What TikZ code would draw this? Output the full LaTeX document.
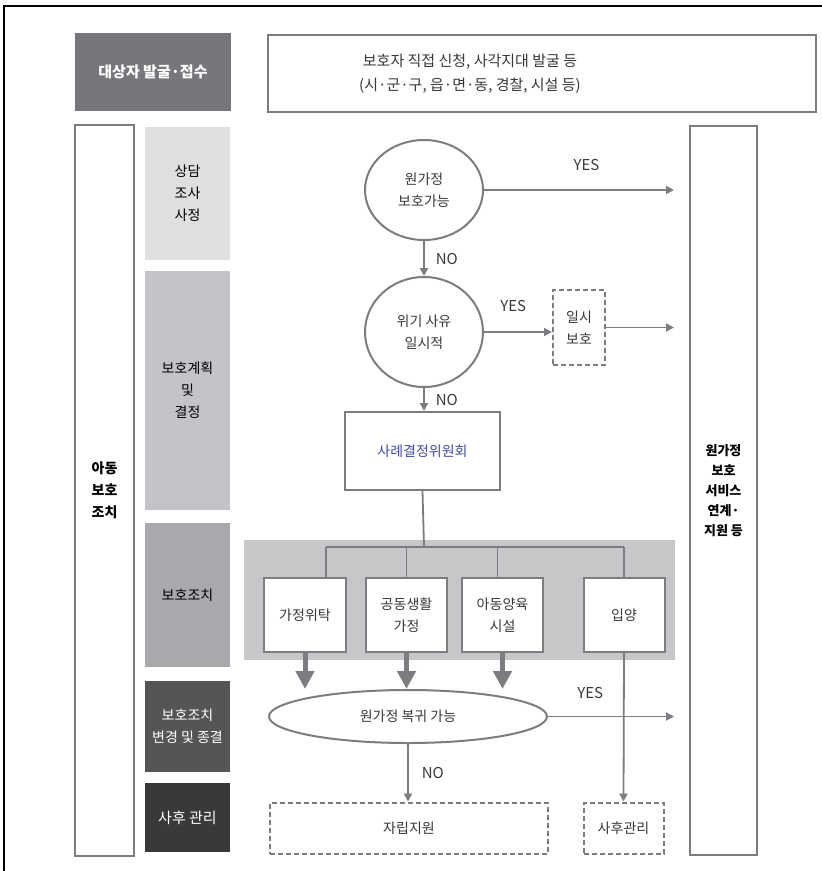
\documentclass[tikz,border=0pt]{standalone}
\usepackage{fontspec}
\setmainfont{Noto Sans CJK KR}
\usepackage{xcolor}
\usetikzlibrary{shapes.geometric, arrows.meta, positioning, calc}

\definecolor{linegray}{HTML}{7D7D81}
\definecolor{txtgray}{HTML}{383838}
\definecolor{boardblue}{HTML}{3F4C9E}
\definecolor{stageA}{HTML}{DFDFE1}
\definecolor{stageB}{HTML}{C3C4C7}
\definecolor{stageC}{HTML}{A8A9AC}
\definecolor{stageD}{HTML}{555558}
\definecolor{stageE}{HTML}{39393B}
\definecolor{intakegray}{HTML}{77777B}
\definecolor{panelgray}{HTML}{C6C7C9}

\begin{document}
\begin{tikzpicture}[
    x=1pt, y=-1pt,
    font=\fontsize{14}{22}\selectfont,
    stagebox/.style={rectangle, minimum width=85pt, align=center, text=black},
    box/.style={rectangle, draw=linegray, line width=2pt, fill=white, align=center, text=txtgray},
    dashbox/.style={box, dash pattern=on 5pt off 3pt},
    decision/.style={ellipse, draw=linegray, line width=2pt, fill=white, align=center, inner sep=0pt, text=txtgray},
    flow/.style={-{Triangle[length=8pt, width=8pt]}, draw=linegray, line width=1.8pt},
    link/.style={draw=linegray, line width=1.8pt},
    fat/.style={-{Triangle[length=18pt, width=18pt]}, draw=linegray, line width=5pt},
    lbl/.style={text=txtgray, inner sep=1pt, font=\fontsize{15}{18}\selectfont}
]
\useasboundingbox (0,0) rectangle (822,871);

% Frame
\draw[line width=1.5pt] (4,871) -- (4,6) -- (822,6);

% Intake row
\node[rectangle, fill=intakegray, minimum width=156pt, minimum height=78pt, text=white, font=\fontsize{15}{22}\selectfont\bfseries] (intake) at (153,72) {대상자 발굴·접수};
\node[box, minimum width=548pt, minimum height=77pt] (source) at (542,73.5) {};
\node[align=center, text=txtgray, font=\fontsize{15}{24}\selectfont] (sourcetxt) at (470,73.5) {보호자 직접 신청, 사각지대 발굴 등\\(시·군·구, 읍·면·동, 경찰, 시설 등)};

% Side columns
\node[box, minimum width=59pt, minimum height=731pt, text=black, font=\fontsize{14}{22}\selectfont\bfseries] (child) at (104.5,490.5) {아동\\보호\\조치};
\node[box, minimum width=67pt, minimum height=729pt, text=black, font=\fontsize{13}{20}\selectfont\bfseries] (home) at (723.5,490.5) {원가정\\보호\\서비스\\연계·\\지원 등};

% Stages
\node[stagebox, fill=stageA, minimum height=133pt] (st1) at (187.5,193.5) {상담\\조사\\사정};
\node[stagebox, fill=stageB, minimum height=239pt] (st2) at (187.5,390.5) {보호계획\\및\\결정};
\node[stagebox, fill=stageC, minimum height=144pt] (st3) at (187.5,595) {보호조치};
\node[stagebox, fill=stageD, minimum height=91pt, text=white] (st4) at (187.5,726.5) {보호조치\\변경 및 종결};
\node[stagebox, fill=stageE, minimum height=69pt, text=white, font=\fontsize{15}{22}\selectfont] (st5) at (187.5,817.5) {사후 관리};

% Decisions
\node[decision, minimum width=118pt, minimum height=100pt] (q1) at (424,190) {원가정\\보호가능};
\node[decision, minimum width=118pt, minimum height=110pt] (q2) at (424,332) {위기 사유\\일시적};
\node[dashbox, minimum width=52pt, minimum height=75pt] (temp) at (579,327.5) {일시\\보호};
\node[box, minimum width=155pt, minimum height=78pt, text=boardblue] (board) at (422.5,451) {사례결정위원회};

\draw[flow, shorten >=15pt] (q1.east) -- node[lbl, above=17pt, pos=0.5] {YES} (q1.east -| home.west);
\draw[flow] (q1.south) -- node[lbl, right=10pt] {NO} (q2.north);
\draw[flow] (q2.east) -- node[lbl, above=18pt, pos=0.43] {YES} (q2.east -| temp.west);
\draw[flow, shorten >=15pt] (temp.east) -- (temp.east -| home.west);
\draw[flow] (q2.south) -- node[lbl, right=10pt] {NO} (q2.south |- board.north);

% Placements
\node[rectangle, fill=panelgray, minimum width=431pt, minimum height=120pt] (panel) at (459.5,600) {};
\node[box, minimum width=82pt, minimum height=74pt] (b1) at (305,615) {가정위탁};
\node[box, minimum width=81pt, minimum height=74pt] (b2) at (406.5,615) {공동생활\\가정};
\node[box, minimum width=81pt, minimum height=74pt] (b3) at (502.5,615) {아동양육\\시설};
\node[box, minimum width=81pt, minimum height=74pt] (b4) at (624,615) {입양};

\coordinate (bus) at (424,547);
\coordinate (t1) at ([xshift=21pt]b1.north);
\coordinate (t2) at (b2.north);
\coordinate (t3) at ([xshift=-5pt]b3.north);
\coordinate (t4) at (b4.north);
\draw[link] (board.south) -- (bus);
\draw[link] (t1 |- bus) -- (t4 |- bus);
\foreach \t in {t1, t2, t3, t4} {
    \draw[link] (\t |- bus) -- (\t);
}

% Return
\node[decision, minimum width=278pt, minimum height=53pt] (ret) at (408,716.5) {원가정 복귀 가능};
\node[dashbox, minimum width=278pt, minimum height=51pt] (indep) at (409,828) {자립지원};
\node[dashbox, minimum width=80pt, minimum height=51pt] (after) at (623.5,828) {사후관리};

\foreach \b in {b1, b2, b3} {
    \draw[fat] (\b.south) -- (\b.south |- ret.north);
}
\draw[flow, shorten >=15pt] (ret.east) -- node[lbl, above=16pt, pos=0.3] {YES} (ret.east -| home.west);
\draw[flow] (b4.south) -- (after.north);
\draw[flow] (ret.south) -- node[lbl, right=12pt] {NO} (ret.south |- indep.north);

\end{tikzpicture}
\end{document}
